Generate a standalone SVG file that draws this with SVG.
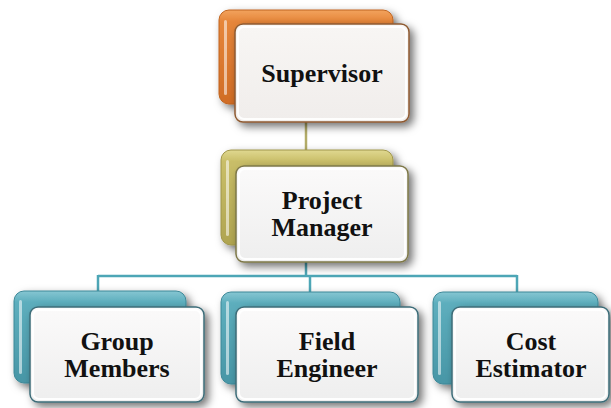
<svg xmlns="http://www.w3.org/2000/svg" width="611" height="408" viewBox="0 0 611 408">
  <defs>
    <filter id="sh" x="-20%" y="-20%" width="150%" height="150%">
      <feDropShadow dx="4" dy="4" stdDeviation="4" flood-color="#000" flood-opacity="0.55"/>
    </filter>
    <linearGradient id="gOr" x1="0" y1="0" x2="0" y2="1">
      <stop offset="0" stop-color="#F2A35E"/>
      <stop offset="0.12" stop-color="#E6863A"/>
      <stop offset="1" stop-color="#D06C26"/>
    </linearGradient>
    <linearGradient id="gOl" x1="0" y1="0" x2="0" y2="1">
      <stop offset="0" stop-color="#E0D890"/>
      <stop offset="0.12" stop-color="#C9BE68"/>
      <stop offset="1" stop-color="#AFA450"/>
    </linearGradient>
    <linearGradient id="gTe" x1="0" y1="0" x2="0" y2="1">
      <stop offset="0" stop-color="#86C6D2"/>
      <stop offset="0.12" stop-color="#5DAEBD"/>
      <stop offset="1" stop-color="#4896A6"/>
    </linearGradient>
    <linearGradient id="gFr" x1="0" y1="0" x2="0" y2="1">
      <stop offset="0" stop-color="#FBFAFA"/>
      <stop offset="1" stop-color="#EEEEEE"/>
    </linearGradient>
    <linearGradient id="gFrW" x1="0" y1="0" x2="0" y2="1">
      <stop offset="0" stop-color="#F8F6F4"/>
      <stop offset="1" stop-color="#F0EDEB"/>
    </linearGradient>
  </defs>
  <style>
    .back { filter: url(#sh); }
    .front { filter: url(#sh); }
    .hl { fill: #FFFFFF; opacity: 0.55; }
    .bevel { fill: none; stroke: #FFFFFF; stroke-width: 2; opacity: 0.9; }
    .lbl { font-family: "Liberation Serif", "Times New Roman", serif; font-weight: bold; font-size: 26px; fill: #111; text-anchor: middle; }
    .conn-ol { stroke: #B3AC68; stroke-width: 2.5; fill: none; }
    .conn-te { stroke: #4DA6B6; stroke-width: 2.5; fill: none; }
  </style>

  <g id="connectors">
    <line class="conn-ol" x1="306" y1="118" x2="306" y2="152"/>
    <polyline class="conn-te" points="306,258 306,276"/>
    <line class="conn-te" x1="98" y1="276" x2="517" y2="276"/>
    <line class="conn-te" x1="98" y1="275" x2="98" y2="293"/>
    <line class="conn-te" x1="310" y1="275" x2="310" y2="294"/>
    <line class="conn-te" x1="517" y1="275" x2="517" y2="294"/>
  </g>

  <g id="supervisor">
    <rect class="back" x="219" y="10" width="174" height="94" rx="10" fill="url(#gOr)" stroke="#C0651F" stroke-width="1"/>
    <rect class="hl" x="224" y="20" width="3" height="75" rx="1.5"/>
    <rect class="front" x="235" y="24" width="174" height="98" rx="8" fill="url(#gFrW)" stroke="#8E5A30" stroke-width="1.5"/>
    <rect class="bevel" x="238" y="27" width="168" height="92" rx="6"/>
    <text class="lbl" x="322" y="82">Supervisor</text>
  </g>

  <g id="project-manager">
    <rect class="back" x="221" y="150" width="172" height="95" rx="10" fill="url(#gOl)" stroke="#A0964A" stroke-width="1"/>
    <rect class="hl" x="226" y="160" width="3" height="76" rx="1.5"/>
    <rect class="front" x="236" y="166" width="172" height="96" rx="8" fill="url(#gFr)" stroke="#7E7848" stroke-width="1.5"/>
    <rect class="bevel" x="239" y="169" width="166" height="90" rx="6"/>
    <text class="lbl" x="322" y="209">Project</text>
    <text class="lbl" x="322" y="236">Manager</text>
  </g>

  <g id="group-members">
    <rect class="back" x="14" y="291" width="172" height="92" rx="10" fill="url(#gTe)" stroke="#3D8898" stroke-width="1"/>
    <rect class="hl" x="19" y="300" width="3" height="74" rx="1.5"/>
    <rect class="front" x="30" y="307" width="174" height="95" rx="8" fill="url(#gFr)" stroke="#3C6C78" stroke-width="1.5"/>
    <rect class="bevel" x="33" y="310" width="168" height="89" rx="6"/>
    <text class="lbl" x="117" y="350">Group</text>
    <text class="lbl" x="117" y="377">Members</text>
  </g>

  <g id="field-engineer">
    <rect class="back" x="221" y="292" width="179" height="92" rx="10" fill="url(#gTe)" stroke="#3D8898" stroke-width="1"/>
    <rect class="hl" x="226" y="301" width="3" height="74" rx="1.5"/>
    <rect class="front" x="236" y="307" width="182" height="95" rx="8" fill="url(#gFr)" stroke="#3C6C78" stroke-width="1.5"/>
    <rect class="bevel" x="239" y="310" width="176" height="89" rx="6"/>
    <text class="lbl" x="327" y="350">Field</text>
    <text class="lbl" x="327" y="377">Engineer</text>
  </g>

  <g id="cost-estimator">
    <rect class="back" x="433" y="292" width="165" height="92" rx="10" fill="url(#gTe)" stroke="#3D8898" stroke-width="1"/>
    <rect class="hl" x="438" y="301" width="3" height="74" rx="1.5"/>
    <rect class="front" x="452" y="307" width="157" height="95" rx="8" fill="url(#gFr)" stroke="#3C6C78" stroke-width="1.5"/>
    <rect class="bevel" x="455" y="310" width="151" height="89" rx="6"/>
    <text class="lbl" x="531" y="350">Cost</text>
    <text class="lbl" x="531" y="377">Estimator</text>
  </g>
</svg>
